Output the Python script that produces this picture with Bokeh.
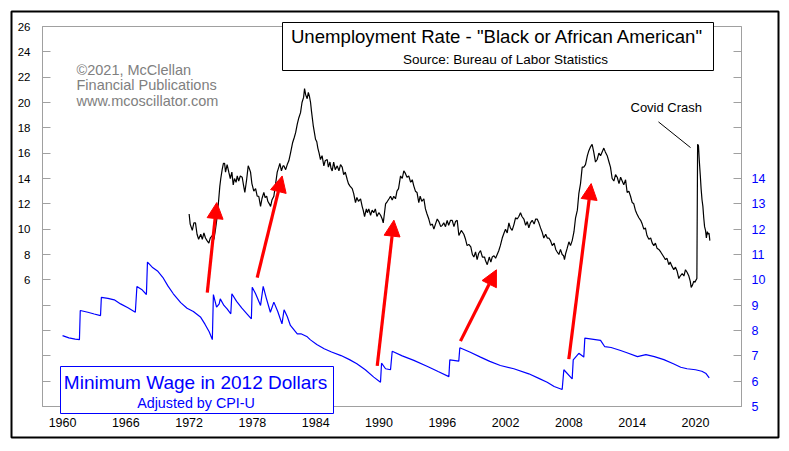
from bokeh.plotting import figure
from bokeh.models import (Range1d, LinearAxis, FixedTicker, BoxAnnotation, Label,
                          Arrow, NormalHead, ColumnDataSource)
from bokeh.embed import file_html
from bokeh.resources import INLINE

# ---------------- data ----------------
unemp_year = [
    1972.0, 1972.1, 1972.3, 1972.45, 1972.6, 1972.75, 1972.9, 1973.1, 1973.25, 1973.4, 1973.55, 1973.7,
    1973.87, 1974.0, 1974.19, 1974.35, 1974.5, 1974.66, 1974.8, 1974.91, 1975.0, 1975.13, 1975.25, 1975.36,
    1975.45, 1975.6, 1975.76, 1975.9, 1976.05, 1976.18, 1976.3, 1976.45, 1976.56, 1976.7, 1976.85, 1977.03,
    1977.15, 1977.28, 1977.45, 1977.6, 1977.7, 1977.82, 1977.95, 1978.13, 1978.3, 1978.45, 1978.6, 1978.77,
    1978.9, 1979.08, 1979.2, 1979.35, 1979.46, 1979.6, 1979.72, 1979.85, 1980.03, 1980.2, 1980.35, 1980.5,
    1980.6, 1980.75, 1980.9, 1980.98, 1981.15, 1981.3, 1981.45, 1981.61, 1981.8, 1981.95, 1982.09, 1982.25,
    1982.4, 1982.56, 1982.7, 1982.85, 1982.94, 1983.05, 1983.19, 1983.3, 1983.4, 1983.51, 1983.6, 1983.76,
    1983.88, 1983.98, 1984.1, 1984.2, 1984.32, 1984.45, 1984.6, 1984.77, 1984.9, 1985.09, 1985.2, 1985.35,
    1985.45, 1985.56, 1985.7, 1985.85, 1986.04, 1986.2, 1986.35, 1986.51, 1986.65, 1986.8, 1986.99, 1987.1,
    1987.25, 1987.46, 1987.6, 1987.77, 1987.9, 1988.05, 1988.25, 1988.4, 1988.5, 1988.63, 1988.8, 1988.9,
    1989.03, 1989.2, 1989.35, 1989.5, 1989.65, 1989.8, 1989.98, 1990.15, 1990.3, 1990.4, 1990.52, 1990.62,
    1990.8, 1990.95, 1991.09, 1991.25, 1991.4, 1991.56, 1991.7, 1991.85, 1992.04, 1992.2, 1992.35, 1992.5,
    1992.65, 1992.82, 1993.0, 1993.15, 1993.3, 1993.45, 1993.6, 1993.77, 1993.9, 1994.05, 1994.25, 1994.4,
    1994.55, 1994.72, 1994.88, 1995.05, 1995.2, 1995.35, 1995.52, 1995.67, 1995.85, 1995.99, 1996.14, 1996.3,
    1996.46, 1996.6, 1996.78, 1996.94, 1997.1, 1997.25, 1997.41, 1997.57, 1997.8, 1998.04, 1998.2, 1998.35,
    1998.51, 1998.7, 1998.85, 1998.99, 1999.15, 1999.3, 1999.45, 1999.62, 1999.8, 2000.0, 2000.1, 2000.26,
    2000.45, 2000.6, 2000.73, 2000.9, 2001.05, 2001.2, 2001.35, 2001.5, 2001.68, 2001.85, 2001.99, 2002.15,
    2002.31, 2002.45, 2002.62, 2002.8, 2002.94, 2003.1, 2003.25, 2003.41, 2003.55, 2003.73, 2003.9, 2004.05,
    2004.2, 2004.35, 2004.52, 2004.7, 2004.85, 2004.99, 2005.15, 2005.31, 2005.45, 2005.62, 2005.8, 2005.95,
    2006.1, 2006.25, 2006.42, 2006.6, 2006.75, 2006.89, 2007.05, 2007.2, 2007.36, 2007.5, 2007.58, 2007.7,
    2007.84, 2008.0, 2008.15, 2008.31, 2008.48, 2008.63, 2008.8, 2008.94, 2009.1, 2009.26, 2009.41, 2009.57,
    2009.75, 2009.89, 2010.05, 2010.2, 2010.35, 2010.52, 2010.68, 2010.84, 2011.0, 2011.15, 2011.31, 2011.45,
    2011.63, 2011.8, 2011.94, 2012.1, 2012.26, 2012.42, 2012.58, 2012.75, 2012.9, 2013.05, 2013.2, 2013.37,
    2013.52, 2013.68, 2013.84, 2014.0, 2014.15, 2014.3, 2014.45, 2014.63, 2014.8, 2014.95, 2015.1, 2015.25,
    2015.4, 2015.58, 2015.75, 2015.9, 2016.05, 2016.2, 2016.35, 2016.52, 2016.7, 2016.85, 2017.0, 2017.15,
    2017.3, 2017.47, 2017.6, 2017.75, 2017.94, 2018.1, 2018.25, 2018.42, 2018.55, 2018.74, 2018.9, 2019.05,
    2019.2, 2019.37, 2019.5, 2019.59, 2019.72, 2019.84, 2019.95, 2020.06, 2020.13, 2020.2, 2020.28, 2020.36,
    2020.45, 2020.53, 2020.62, 2020.7, 2020.78, 2020.86, 2020.95, 2021.03, 2021.12, 2021.2, 2021.28, 2021.36,
]
unemp_rate = [
    11.2, 10.4, 9.9, 10.5, 10.5, 9.6, 9.2, 9.6, 9.2, 9.7, 9.3, 9.1,
    8.9, 9.3, 9.5, 9.2, 10.0, 11.0, 12.3, 13.4, 14.0, 14.7, 15.2, 15.2,
    14.5, 15.1, 14.5, 14.0, 14.5, 13.5, 14.0, 13.7, 14.2, 13.8, 14.2, 14.1,
    13.5, 12.9, 13.9, 15.0, 14.8, 14.5, 13.6, 13.0, 13.2, 12.6, 12.6, 11.8,
    12.4, 12.9, 12.5, 12.6, 12.2, 12.0, 11.8, 12.3, 12.6, 13.6, 14.5, 14.9,
    15.2, 14.6, 15.0, 15.0, 14.7, 15.1, 15.4, 16.0, 16.8, 17.2, 17.6, 18.3,
    18.8, 19.2, 20.0, 20.4, 21.1, 20.6, 20.3, 20.8, 20.5, 20.0, 19.3, 18.2,
    17.6, 17.1, 16.9, 16.4, 16.0, 15.5, 15.8, 15.0, 15.4, 15.5, 14.9, 15.3,
    14.8, 14.6, 15.3, 14.7, 15.0, 14.6, 15.1, 14.9, 14.3, 14.5, 13.9, 13.6,
    13.4, 13.2, 12.8, 12.1, 12.5, 12.2, 12.4, 11.8, 11.5, 11.0, 11.6, 11.3,
    11.6, 11.1, 11.5, 11.3, 11.6, 11.0, 11.3, 11.1, 10.8, 10.5, 11.3, 12.0,
    12.2, 12.4, 12.6, 12.3, 12.6, 12.4, 13.0, 13.2, 14.2, 14.0, 14.6, 14.4,
    14.1, 14.2, 13.7, 13.9, 13.4, 13.0, 12.9, 12.1, 12.6, 12.2, 12.4, 11.6,
    11.2, 10.8, 10.3, 10.4, 10.0, 10.4, 10.8, 10.6, 10.2, 10.3, 10.5, 10.2,
    10.7, 10.3, 10.7, 10.7, 10.2, 10.6, 10.7, 9.5, 9.9, 9.6, 9.2, 8.7,
    8.8, 8.6, 8.0, 7.8, 8.2, 7.6, 8.1, 8.3, 7.8, 7.8, 7.5, 7.2,
    7.8, 7.4, 7.8, 7.9, 7.7, 8.0, 8.3, 8.7, 9.3, 9.7, 10.0, 9.7,
    10.5, 10.1, 9.9, 10.4, 10.9, 10.8, 11.0, 11.3, 11.0, 10.8, 10.3, 10.6,
    10.1, 10.5, 10.7, 10.4, 10.8, 10.8, 10.5, 10.1, 9.8, 9.3, 9.6, 9.3,
    9.3, 9.1, 8.7, 8.9, 8.4, 8.2, 8.0, 8.4, 8.0, 7.9, 7.6, 8.1,
    8.5, 9.0, 8.7, 9.1, 9.8, 10.9, 11.5, 12.8, 13.6, 14.9, 14.9, 15.1,
    15.8, 16.2, 16.5, 16.7, 16.1, 15.3, 15.5, 16.0, 15.8, 16.1, 16.4, 16.1,
    15.8, 15.3, 14.9, 14.0, 13.8, 14.3, 14.1, 13.6, 14.1, 13.8, 13.5, 13.9,
    12.9, 13.0, 12.6, 12.1, 12.0, 11.5, 11.2, 10.9, 10.7, 10.4, 10.0, 10.1,
    9.5, 9.2, 9.3, 8.9, 8.7, 8.9, 8.5, 8.4, 8.2, 8.0, 7.8, 7.6,
    7.7, 7.2, 7.4, 7.1, 6.8, 7.0, 6.7, 6.1, 6.3, 6.5, 6.3, 6.8,
    6.6, 6.3, 5.9, 5.4, 5.6, 5.9, 5.8, 6.0, 6.1, 16.7, 16.6, 15.4,
    14.3, 13.2, 12.3, 11.8, 10.9, 10.2, 9.9, 9.3, 9.8, 9.6, 9.7, 9.1,
]

wage_year = [
    1960.0, 1960.6, 1961.2, 1961.6, 1961.68, 1962.4, 1963.0, 1963.6, 1963.68, 1964.3, 1964.9, 1965.5,
    1966.2, 1966.9, 1967.05, 1967.5, 1967.95, 1968.05, 1968.5, 1969.0, 1969.5, 1970.0, 1970.5, 1971.2,
    1971.8, 1972.4, 1973.1, 1973.5, 1973.9, 1974.2, 1974.3, 1974.6, 1974.85, 1974.95, 1975.3, 1975.6,
    1975.95, 1976.05, 1976.5, 1977.0, 1977.5, 1977.9, 1977.98, 1978.3, 1978.77, 1979.02, 1979.3, 1979.7,
    1980.03, 1980.4, 1980.8, 1981.0, 1981.3, 1981.6, 1982.25, 1982.6, 1983.2, 1983.5, 1984.1, 1984.8,
    1985.5, 1986.4, 1987.2, 1987.9, 1988.7, 1989.5, 1990.14, 1990.24, 1990.62, 1991.09, 1991.25, 1992.2,
    1993.3, 1994.6, 1995.6, 1996.62, 1996.71, 1997.56, 1997.66, 1998.6, 1999.62, 2000.5, 2001.5, 2002.78,
    2004.2, 2005.2, 2005.94, 2006.6, 2007.36, 2007.52, 2008.31, 2008.41, 2008.94, 2009.41, 2009.51, 2011.0,
    2011.4, 2012.0, 2012.9, 2013.5, 2014.5, 2015.3, 2016.1, 2017.0, 2017.9, 2018.6, 2019.2, 2020.0,
    2020.6, 2021.0, 2021.3,
]
wage_2012usd = [
    7.80, 7.71, 7.66, 7.64, 8.79, 8.72, 8.65, 8.59, 9.31, 9.27, 9.21, 9.05,
    8.90, 8.72, 9.74, 9.62, 9.42, 10.70, 10.50, 10.35, 10.10, 9.75, 9.45, 9.10,
    8.88, 8.75, 8.52, 8.25, 7.95, 7.64, 9.42, 8.92, 9.05, 9.25, 8.99, 8.85,
    8.66, 9.45, 9.15, 8.88, 8.65, 8.46, 9.71, 9.45, 8.99, 9.74, 9.30, 8.72,
    9.12, 8.75, 8.26, 8.82, 8.55, 8.20, 7.87, 7.87, 7.75, 7.63, 7.45, 7.28,
    7.15, 7.01, 6.85, 6.69, 6.45, 6.16, 5.96, 6.71, 6.49, 6.45, 7.18, 7.00,
    6.82, 6.58, 6.38, 6.18, 6.84, 6.79, 7.32, 7.15, 6.95, 6.78, 6.62, 6.49,
    6.29, 6.10, 5.96, 5.79, 5.67, 6.45, 6.09, 6.84, 7.10, 6.95, 7.70, 7.61,
    7.36, 7.33, 7.21, 7.12, 6.97, 7.05, 6.97, 6.85, 6.69, 6.55, 6.49, 6.45,
    6.39, 6.30, 6.13,
]

x_ticks = [1960, 1966, 1972, 1978, 1984, 1990, 1996, 2002, 2008, 2014, 2020]
left_ticks = [-2, 0, 2, 4, 6, 8, 10, 12, 14, 16, 18, 20, 22, 24, 26]
left_labeled = [6, 8, 10, 12, 14, 16, 18, 20, 22, 24, 26]
right_ticks = [5, 6, 7, 8, 9, 10, 11, 12, 13, 14, 15, 16, 17, 18, 19]
right_labeled = [5, 6, 7, 8, 9, 10, 11, 12, 13, 14]

# arrows (in unemployment-rate axis units)
arrow_x0 = [1973.72, 1978.45, 1989.83, 1997.72, 2007.99]
arrow_y0 = [4.99, 6.18, -0.79, 1.16, -0.26]
arrow_x1 = [1974.62, 1980.82, 1991.41, 2001.13, 2010.11]
arrow_y1 = [12.1, 14.2, 10.71, 6.79, 13.6]

title_text = 'Unemployment Rate - "Black or African American"'
subtitle_text = "Source: Bureau of Labor Statistics"
wm_lines = ["\u00a92021, McClellan", "Financial Publications", "www.mcoscillator.com"]
wage_title = "Minimum Wage in 2012 Dollars"
wage_sub = "Adjusted by CPI-U"
covid_text = "Covid Crash"
covid_x = [2016.49, 2019.53]
covid_y = [18.47, 16.44]

# ---------------- geometry ----------------
FONT = "Liberation Sans"
GRAY = "#a0a0a0"
BLUE = "#0000ff"
W, H = 789, 451
# plot box in pixels: x 42..741, y 26..406
PL, PR, PT, PB = 42, 741, 26, 406
XA, XB = 1958.1, 2024.36      # years at plot box left/right
YA, YB = -4.0, 26.0           # rate at plot box bottom/top
RA, RB = 5.0, 20.0            # wage axis at plot box bottom/top
sx = (XB - XA) / (PR - PL)
sy = (YB - YA) / (PB - PT)
sr = (RB - RA) / (PB - PT)

p = figure(width=W, height=H,
           x_range=Range1d(XA - PL * sx, XB + (W - PR) * sx),
           y_range=Range1d(YA - (H - PB) * sy, YB + PT * sy),
           output_backend="svg", toolbar_location=None,
           x_axis_location=None, y_axis_location=None,
           min_border=0, min_border_left=0, min_border_right=0, min_border_top=0, min_border_bottom=0)
p.extra_y_ranges = {"wage": Range1d(RA - (H - PB) * sr, RB + PT * sr)}
p.xgrid.visible = False
p.ygrid.visible = False
p.outline_line_color = None
p.background_fill_color = "white"
p.border_fill_color = "white"

def px_x(px):
    return XA + (px - PL) * sx

def px_y(py):
    return YB - (py - PT) * sy

# plot box outline
p.add_layout(BoxAnnotation(left=XA, right=XB, bottom=YA, top=YB, fill_alpha=0,
                           line_color=GRAY, line_alpha=1, line_width=1, level="underlay"))

# bottom axis
xa = LinearAxis(fixed_location=YA, bounds=(XA, XB), ticker=FixedTicker(ticks=x_ticks))
xa.major_tick_in = 0
xa.major_tick_out = 0
xa.minor_tick_in = 0
xa.minor_tick_out = 0
xa.axis_line_color = GRAY
xa.major_label_text_font = FONT
xa.major_label_text_font_size = "12.5px"
xa.major_label_text_color = "black"
xa.major_label_standoff = 11
p.add_layout(xa, "below")

# left axis
ya = LinearAxis(fixed_location=XA, bounds=(YA, YB), ticker=FixedTicker(ticks=left_ticks))
ya.major_label_overrides = {t: (str(t) if t in left_labeled else "") for t in left_ticks}
ya.major_tick_in = 8
ya.major_tick_out = 0
ya.axis_line_color = GRAY
ya.major_tick_line_color = GRAY
ya.major_label_text_font = FONT
ya.major_label_text_font_size = "11.5px"
ya.major_label_text_color = "black"
ya.major_label_standoff = 12
p.add_layout(ya, "left")

# right axis
ra = LinearAxis(y_range_name="wage", fixed_location=XB, bounds=(RA, RB),
                ticker=FixedTicker(ticks=right_ticks))
ra.major_label_overrides = {t: (str(t) if t in right_labeled else "") for t in right_ticks}
ra.major_tick_in = 8
ra.major_tick_out = 0
ra.axis_line_color = GRAY
ra.major_tick_line_color = GRAY
ra.major_label_text_font = FONT
ra.major_label_text_font_size = "12.5px"
ra.major_label_text_color = BLUE
ra.major_label_standoff = 10
p.add_layout(ra, "right")

# series
p.line(wage_year, wage_2012usd, line_color=BLUE, line_width=1.2, y_range_name="wage")
p.line(unemp_year, unemp_rate, line_color="black", line_width=1.2)

# covid pointer
p.line(covid_x, covid_y, line_color="black", line_width=1)

# arrows
asrc = ColumnDataSource(dict(x0=arrow_x0, y0=arrow_y0, x1=arrow_x1, y1=arrow_y1))
p.add_layout(Arrow(source=asrc, x_start="x0", y_start="y0", x_end="x1", y_end="y1",
                   line_color="#ff0000", line_width=3.2,
                   end=NormalHead(size=16, fill_color="#ff0000", line_color="#ff0000", line_width=1)))

def add_box(l, r, t, b, color, width):
    p.add_layout(BoxAnnotation(left=px_x(l), right=px_x(r), top=px_y(t), bottom=px_y(b),
                               fill_color="white", fill_alpha=1, line_color=color, line_alpha=1,
                               line_width=width, level="overlay"))

# outer frame
p.add_layout(BoxAnnotation(left=px_x(11), right=px_x(778), top=px_y(11), bottom=px_y(437),
                           fill_alpha=0, line_color="black", line_alpha=1, line_width=2, level="overlay"))
add_box(282, 713, 22, 70, "black", 1)
add_box(60, 333, 366, 413, BLUE, 1)

LABEL_SHIFT = -5
def add_label(px, py, text, size, color="black", align="left"):
    p.add_layout(Label(x=px_x(px), y=px_y(py + LABEL_SHIFT), text=text, text_font=FONT,
                       text_font_size=size, text_color=color, text_align=align,
                       text_baseline="alphabetic", level="overlay"))

add_label(497, 41, title_text, "18.6px", align="center")
add_label(505, 63.5, subtitle_text, "13.5px", align="center")
for i, t in enumerate(wm_lines):
    add_label(76, 74 + 15.6 * i, t, "14.5px", color="#808080")
add_label(195, 386.5, wage_title, "19px", color=BLUE, align="center")
add_label(195.5, 407, wage_sub, "14.3px", color=BLUE, align="center")
add_label(630, 112, covid_text, "13px")

open("out.html", "w").write(file_html(p, INLINE))
